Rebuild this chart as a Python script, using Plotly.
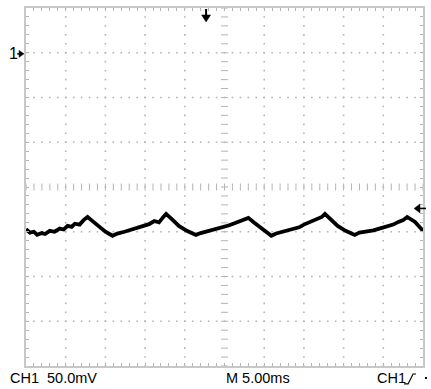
import numpy as np
import plotly.graph_objects as go

# waveform (x in divisions 0..10, y in divisions -4..4)
t_div = [0.0, 0.1, 0.2, 0.28, 0.4, 0.48, 0.6, 0.72, 0.85, 0.95, 1.05, 1.15, 1.23, 1.35,
         1.45, 1.55, 1.7, 1.85, 2.0, 2.18, 2.3, 2.48, 2.6, 2.72, 2.85, 2.98, 3.1, 3.23,
         3.35, 3.45, 3.53, 3.7, 3.85, 4.05, 4.28, 4.4, 4.6, 4.75, 4.88, 4.98, 5.1,
         5.22, 5.35, 5.48, 5.6, 5.75, 5.9, 6.05, 6.18, 6.3, 6.45, 6.6, 6.75, 6.88,
         7.0, 7.1, 7.22, 7.35, 7.45, 7.53, 7.7, 7.85, 8.05, 8.28, 8.4, 8.6, 8.75,
         8.9, 9.0, 9.1, 9.25, 9.38, 9.5, 9.6, 9.8, 10.0]
v_div = [-0.94, -1.02, -1.0, -1.07, -1.03, -1.05, -0.98, -1.0, -0.93, -0.95, -0.87,
         -0.89, -0.82, -0.84, -0.74, -0.67, -0.78, -0.89, -1.0, -1.09, -1.04, -1.0,
         -0.97, -0.93, -0.91, -0.87, -0.83, -0.76, -0.79, -0.68, -0.60, -0.74, -0.87,
         -0.98, -1.07, -1.03, -0.98, -0.96, -0.91, -0.89, -0.86, -0.82, -0.78, -0.74,
         -0.69, -0.80, -0.91, -1.02, -1.09, -1.04, -1.0, -0.98, -0.92, -0.90, -0.84,
         -0.80, -0.77, -0.72, -0.67, -0.60, -0.74, -0.87, -0.98, -1.07, -1.02, -1.0,
         -0.97, -0.93, -0.91, -0.87, -0.84, -0.78, -0.74, -0.67, -0.78, -0.98]

ch_label = "CH1"
volt_label = "50.0mV"
time_label = "M 5.00ms"

W, H = 431, 389
L, R, T, B = 26, 6, 7, 23
PW, PH = W - L - R, H - T - B

def px(x):
    return (x - L) / PW

def py(y):
    return (H - B - y) / PH

GRID = "#b4b4b4"
BORDER = "#c8c8c8"

fig = go.Figure()

# grid dots
gx, gy = [], []
for xv in [1, 2, 3, 4, 6, 7, 8, 9]:
    for yv in np.arange(-4, 4.001, 0.2):
        gx.append(xv); gy.append(yv)
for yv in [-3, -2, -1, 1, 2, 3]:
    for xv in np.arange(0, 10.001, 0.2):
        gx.append(xv); gy.append(yv)
fig.add_trace(go.Scatter(x=gx, y=gy, mode="markers",
                         marker=dict(symbol="square", size=1.6, color=GRID, line=dict(width=0)),
                         hoverinfo="skip", showlegend=False))
# center line ticks
cx = np.arange(0, 10.001, 0.2)
fig.add_trace(go.Scatter(x=cx, y=[0] * len(cx), mode="markers",
                         marker=dict(symbol="line-ns", size=5, line=dict(width=1, color=GRID)),
                         hoverinfo="skip", showlegend=False))
cy = np.arange(-4, 4.001, 0.2)
fig.add_trace(go.Scatter(x=[5] * len(cy), y=cy, mode="markers",
                         marker=dict(symbol="line-ew", size=5, line=dict(width=1, color=GRID)),
                         hoverinfo="skip", showlegend=False))

# waveform
fig.add_trace(go.Scatter(x=t_div, y=v_div, mode="lines",
                         line=dict(color="black", width=3.8),
                         hoverinfo="skip", showlegend=False))

FONT = "Liberation Sans, Arial, sans-serif"
ann = []
ann.append(dict(x=px(7), y=py(53), xref="paper", yref="paper", text="1", showarrow=False,
                xanchor="left", yanchor="middle", font=dict(family=FONT, size=16, color="black")))
for txt, x0 in [(ch_label, 8), (volt_label, 45), (time_label, 225), (ch_label, 377)]:
    ann.append(dict(x=px(x0), y=py(388), xref="paper", yref="paper", text=txt, showarrow=False,
                    xanchor="left", yanchor="bottom",
                    font=dict(family=FONT, size=14.5, color="black")))

def poly(points, fill=True, width=0):
    p = "M " + " L ".join(f"{px(a)},{py(b)}" for a, b in points)
    if fill:
        p += " Z"
        return dict(type="path", xref="paper", yref="paper", path=p,
                    fillcolor="black", line=dict(color="black", width=width))
    return dict(type="path", xref="paper", yref="paper", path=p,
                line=dict(color="black", width=width))

shapes = [
    # trigger slope glyph
    poly([(406, 384), (410, 384), (415, 374), (418, 374)], fill=False, width=1.2),
    dict(type="rect", xref="paper", yref="paper", x0=px(427), x1=px(429), y0=py(379), y1=py(377),
         fillcolor="black", line=dict(width=0)),
    # trigger position arrow (top)
    poly([(207, 8), (207, 15)], fill=False, width=2),
    poly([(202.5, 14), (211.5, 14), (207, 21)], width=0.5),
    # trigger level arrow (right)
    poly([(421, 208), (428, 208)], fill=False, width=1.6),
    poly([(422, 203.5), (422, 212.5), (416, 208)], width=0.5),
    # channel 1 ground marker
    poly([(17, 53), (19, 53)], fill=False, width=1.4),
    poly([(19, 49.5), (19, 56.5), (24, 53)], width=0.5),
]

axis_common = dict(showgrid=False, zeroline=False, showticklabels=False,
                   ticks="inside", ticklen=3, tickwidth=1, tickcolor=GRID,
                   showline=True, linewidth=2, linecolor=BORDER, mirror="ticks")
fig.update_layout(
    width=W, height=H, margin=dict(l=L, r=R, t=T, b=B),
    paper_bgcolor="white", plot_bgcolor="white",
    xaxis=dict(range=[0, 10], dtick=0.2, tick0=0, **axis_common),
    yaxis=dict(range=[-4, 4], dtick=0.2, tick0=0, **axis_common),
    annotations=ann, shapes=shapes,
)
fig.write_html("out.html")
